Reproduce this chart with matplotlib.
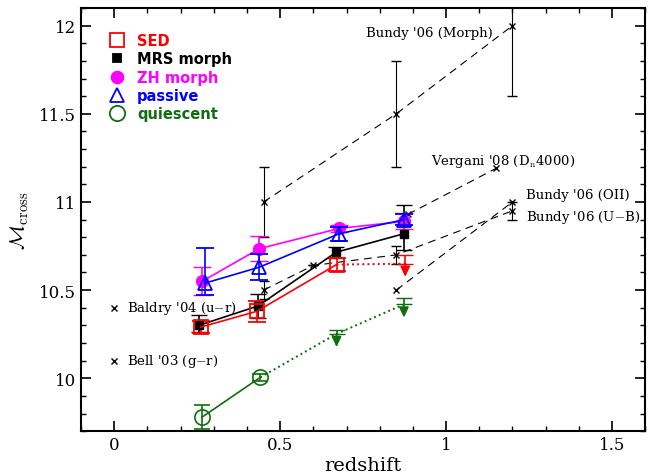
import numpy as np
import matplotlib.pyplot as plt
from matplotlib.ticker import MultipleLocator

plt.rcParams['font.family'] = 'DejaVu Serif'
plt.rcParams['mathtext.fontset'] = 'cm'

# --- this work ---
sed_z = [0.26, 0.43, 0.67]
sed_m = [10.29, 10.38, 10.645]
sed_e = [0.035, 0.06, 0.035]
sed_lim_z = [0.877]
sed_lim_m = [10.675]
sed_lim_e = [0.025]

mrs_z = [0.255, 0.433, 0.669, 0.873]
mrs_m = [10.30, 10.41, 10.715, 10.82]
mrs_elo = [0.04, 0.07, 0.03, 0.09]
mrs_ehi = [0.06, 0.07, 0.03, 0.165]

zh_z = [0.265, 0.437, 0.678, 0.874]
zh_m = [10.55, 10.735, 10.85, 10.89]
zh_e = [0.08, 0.07, 0.02, 0.045]

pas_z = [0.274, 0.437, 0.678, 0.874]
pas_m = [10.54, 10.63, 10.82, 10.90]
pas_elo = [0.07, 0.075, 0.04, 0.03]
pas_ehi = [0.20, 0.075, 0.04, 0.03]

qui_z = [0.265, 0.44]
qui_m = [9.78, 10.005]
qui_e = [0.07, 0.02]
qui_lim_z = [0.67, 0.873]
qui_lim_m = [10.264, 10.437]
qui_lim_e = [0.012, 0.018]

# --- literature ---
morph_z = [0.45, 0.85, 1.2]
morph_m = [11.0, 11.5, 12.0]
morph_e = [0.2, 0.3, 0.4]

ub_z = [0.45, 0.6, 0.85, 1.2]
ub_m = [10.5, 10.64, 10.70, 10.95]
ub_e = [0.05, 0.0, 0.05, 0.05]

oii_z = [0.85, 1.2]
oii_m = [10.5, 11.0]

verg_z = [0.885, 1.15]
verg_m = [10.93, 11.19]

local_m = [10.40, 10.10]
local_lab = ["Baldry '04 (u$-$r)", "Bell '03 (g$-$r)"]

red = '#ff0000'
mag = '#ff00ff'
blue = '#0000ff'
green = '#0f6e0f'

fig, ax = plt.subplots(figsize=(6.59, 4.77), dpi=100)
fig.subplots_adjust(left=0.123, right=0.979, top=0.981, bottom=0.094)

dash = (7, 5)
# literature dashed lines
ax.errorbar(morph_z, morph_m, yerr=morph_e, fmt='x--', color='k', lw=0.8, ms=4,
            capsize=3.5, elinewidth=0.8, dashes=dash)
ax.errorbar(ub_z, ub_m, yerr=ub_e, fmt='x--', color='k', lw=0.8, ms=4,
            capsize=3.5, elinewidth=0.8, dashes=dash)
ax.plot(oii_z, oii_m, 'x--', color='k', lw=0.8, ms=4, dashes=dash)
ax.plot(verg_z, verg_m, 'x--', color='k', lw=0.8, ms=4, dashes=dash)

fs = 9.5
ax.text(1.14, 11.96, "Bundy '06 (Morph)", fontsize=fs, ha='right', va='center')
ax.text(0.955, 11.235, r"Vergani '08 (D$_{\rm n}$4000)", fontsize=fs, ha='left', va='center')
ax.text(1.24, 11.045, "Bundy '06 (OII)", fontsize=fs, ha='left', va='center')
ax.text(1.24, 10.915, "Bundy '06 (U$-$B)", fontsize=fs, ha='left', va='center')

ax.plot([0.0] * len(local_m), local_m, 'x', color='k', ms=4, ls='none')
for m, lab in zip(local_m, local_lab):
    ax.text(0.037, m, lab, fontsize=fs, va='center')

# this work
ax.errorbar(mrs_z, mrs_m, yerr=[mrs_elo, mrs_ehi], fmt='s-', color='k', ms=6,
            lw=1.2, capsize=6, elinewidth=1.2, zorder=3)
ax.errorbar(sed_z, sed_m, yerr=sed_e, fmt='s-', color=red, mfc='none', mew=1.3,
            ms=9.5, lw=1.2, capsize=6.5, elinewidth=1.2, zorder=3)
ax.errorbar(zh_z, zh_m, yerr=zh_e, fmt='o-', color=mag, ms=8.5, lw=1.2,
            capsize=6.5, elinewidth=1.2, zorder=3)
ax.errorbar(pas_z, pas_m, yerr=[pas_elo, pas_ehi], fmt='^-', color=blue, mfc='none',
            mew=1.3, ms=9.5, lw=1.2, capsize=6.5, elinewidth=1.2, zorder=4)
ax.errorbar(qui_z, qui_m, yerr=qui_e, fmt='o-', color=green, mfc='none', mew=1.2,
            ms=11, lw=1.2, capsize=6, elinewidth=1.2, zorder=3)


def upper_limits(z0, m0, zs, ms, es, color):
    # dotted link from last detection, then capped bar with a downward arrow
    ax.plot([z0] + zs, [m0] + [m - e for m, e in zip(ms, es)], ':', color=color, lw=1.4)
    ax.errorbar(zs, ms, yerr=es, fmt='none', color=color, capsize=6, elinewidth=1.2)
    for z, m, e in zip(zs, ms, es):
        ax.annotate('', xy=(z, m - e - 0.075), xytext=(z, m - e),
                    arrowprops=dict(arrowstyle='-|>,head_length=0.6,head_width=0.28',
                                    color=color, lw=1.3, shrinkA=0, shrinkB=0))


upper_limits(sed_z[-1], sed_m[-1], sed_lim_z, sed_lim_m, sed_lim_e, red)
upper_limits(qui_z[-1], qui_m[-1], qui_lim_z, qui_lim_m, qui_lim_e, green)

# legend
leg_items = [('SED', 's', red, 'none', 9.5), ('MRS morph', 's', 'k', 'k', 6),
             ('ZH morph', 'o', mag, mag, 8.5), ('passive', '^', blue, 'none', 9.5),
             ('quiescent', 'o', green, 'none', 11)]
handles = [plt.Line2D([], [], marker=m, color=c, mfc=f, ms=s, mew=1.3, ls='none')
           for _, m, c, f, s in leg_items]
leg = ax.legend(handles, [t for t, *_ in leg_items], loc='upper left',
                bbox_to_anchor=(0.022, 0.968), frameon=False, handletextpad=0.6,
                labelspacing=0.22, borderpad=0.3, handlelength=1.6,
                prop={'family': 'DejaVu Sans', 'weight': 'bold', 'size': 10.5})
for txt, (_, _, c, _, _) in zip(leg.get_texts(), leg_items):
    txt.set_color(c)

ax.set_xlim(-0.1, 1.6)
ax.set_ylim(9.7, 12.1)
ax.xaxis.set_major_locator(MultipleLocator(0.5))
ax.xaxis.set_minor_locator(MultipleLocator(0.1))
ax.yaxis.set_major_locator(MultipleLocator(0.5))
ax.yaxis.set_minor_locator(MultipleLocator(0.1))
ax.xaxis.set_major_formatter(plt.FuncFormatter(lambda v, p: '%g' % v))
ax.yaxis.set_major_formatter(plt.FuncFormatter(lambda v, p: '%g' % v))
ax.tick_params(which='both', direction='in', top=True, right=True, labelsize=12)
ax.tick_params(which='major', length=7, width=1.2)
ax.tick_params(which='minor', length=3.5, width=1.0)
for sp in ax.spines.values():
    sp.set_linewidth(1.5)

ax.set_xlabel('redshift', fontsize=14, labelpad=2)
ax.set_ylabel(r'$\mathcal{M}_{\rm cross}$', fontsize=15, labelpad=6)

plt.savefig('out.png', dpi=100)
